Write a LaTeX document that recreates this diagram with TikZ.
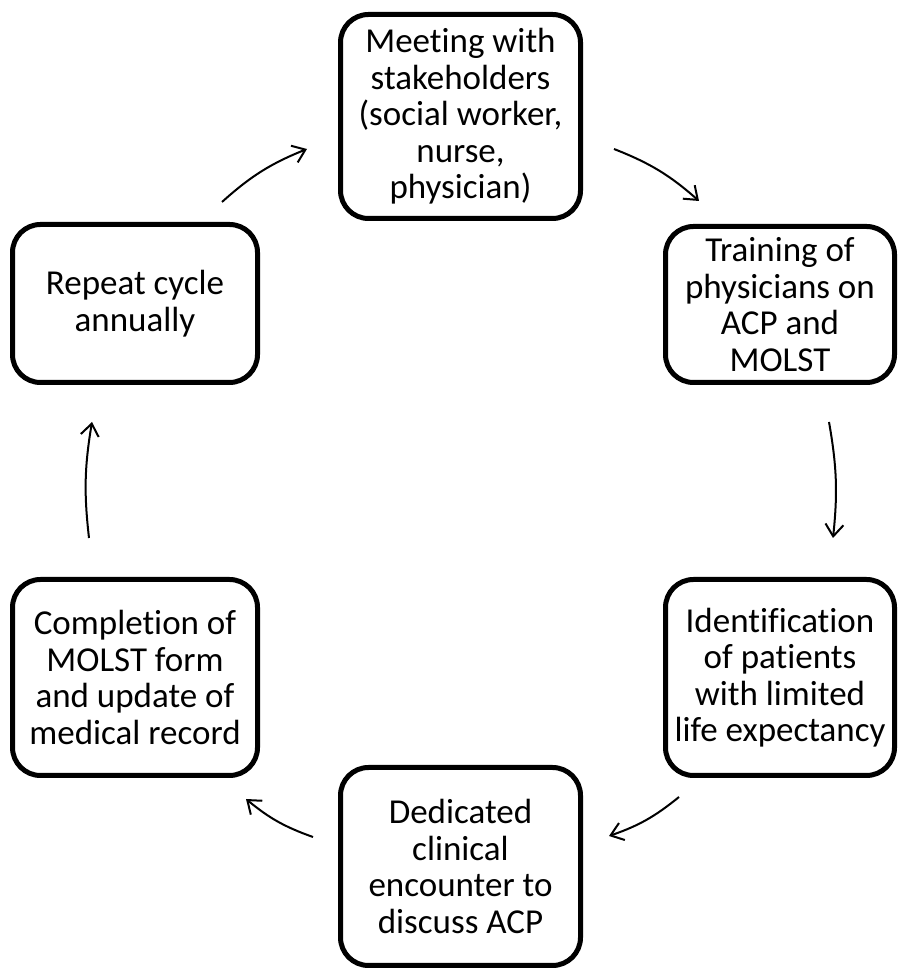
\documentclass[tikz,border=0pt]{standalone}
\usepackage{fontspec}
\setmainfont[Ligatures=NoCommon]{Carlito}
\usetikzlibrary{arrows.meta}

\begin{document}
\begin{tikzpicture}[x=1pt,y=1pt,
    stage/.style={draw=black, line width=5pt, rounded corners=28pt, align=center,
                  inner sep=0pt, font=\fontsize{35}{36.5}\selectfont},
    flow/.style={line width=2pt, -{Straight Barb[length=12pt,width=18pt]}}]

    \useasboundingbox (0,0) rectangle (900,971);

    % these are the stages of the cycle
    \node[stage, minimum width=240pt, minimum height=204pt] (meet) at (460.5,854.5)
        {Meeting with\\stakeholders\\(social worker,\\nurse,\\physician)};
    \node[stage, minimum width=229pt, minimum height=156pt] (train) at (780,666.5)
        {Training of\\physicians on\\ACP and\\MOLST};
    \node[stage, minimum width=229pt, minimum height=196pt] (ident) at (780,293.5)
        {Identification\\of patients\\with limited\\life expectancy};
    \node[stage, minimum width=240pt, minimum height=198pt] (dedic) at (460.5,104.5)
        {Dedicated\\clinical\\encounter to\\discuss ACP};
    \node[stage, minimum width=245pt, minimum height=196pt] (compl) at (135,293.5)
        {Completion of\\MOLST form\\and update of\\medical record};
    \node[stage, minimum width=245pt, minimum height=158pt] (rept) at (135,667.5)
        {Repeat cycle\\annually};

    % ends of the arrows between the stages
    \coordinate (rept-out) at (222,769);
    \coordinate (meet-in) at (307,822);
    \coordinate (meet-out) at (614,822);
    \coordinate (train-in) at (699,770);
    \coordinate (train-out) at (829,549);
    \coordinate (ident-in) at (833,433);
    \coordinate (ident-out) at (679,174);
    \coordinate (dedic-in) at (609,135);
    \coordinate (dedic-out) at (313,134);
    \coordinate (compl-in) at (246,172);
    \coordinate (compl-out) at (89,433);
    \coordinate (rept-in) at (92,549);

    \draw[flow] (rept-out) to[bend left=10] (meet-in);
    \draw[flow] (meet-out) to[bend left=10] (train-in);
    \draw[flow] (train-out) to[bend left=8] (ident-in);
    \draw[flow] (ident-out) to[bend left=10] (dedic-in);
    \draw[flow] (dedic-out) to[bend left=10] (compl-in);
    \draw[flow] (compl-out) to[bend left=8] (rept-in);

\end{tikzpicture}
\end{document}
